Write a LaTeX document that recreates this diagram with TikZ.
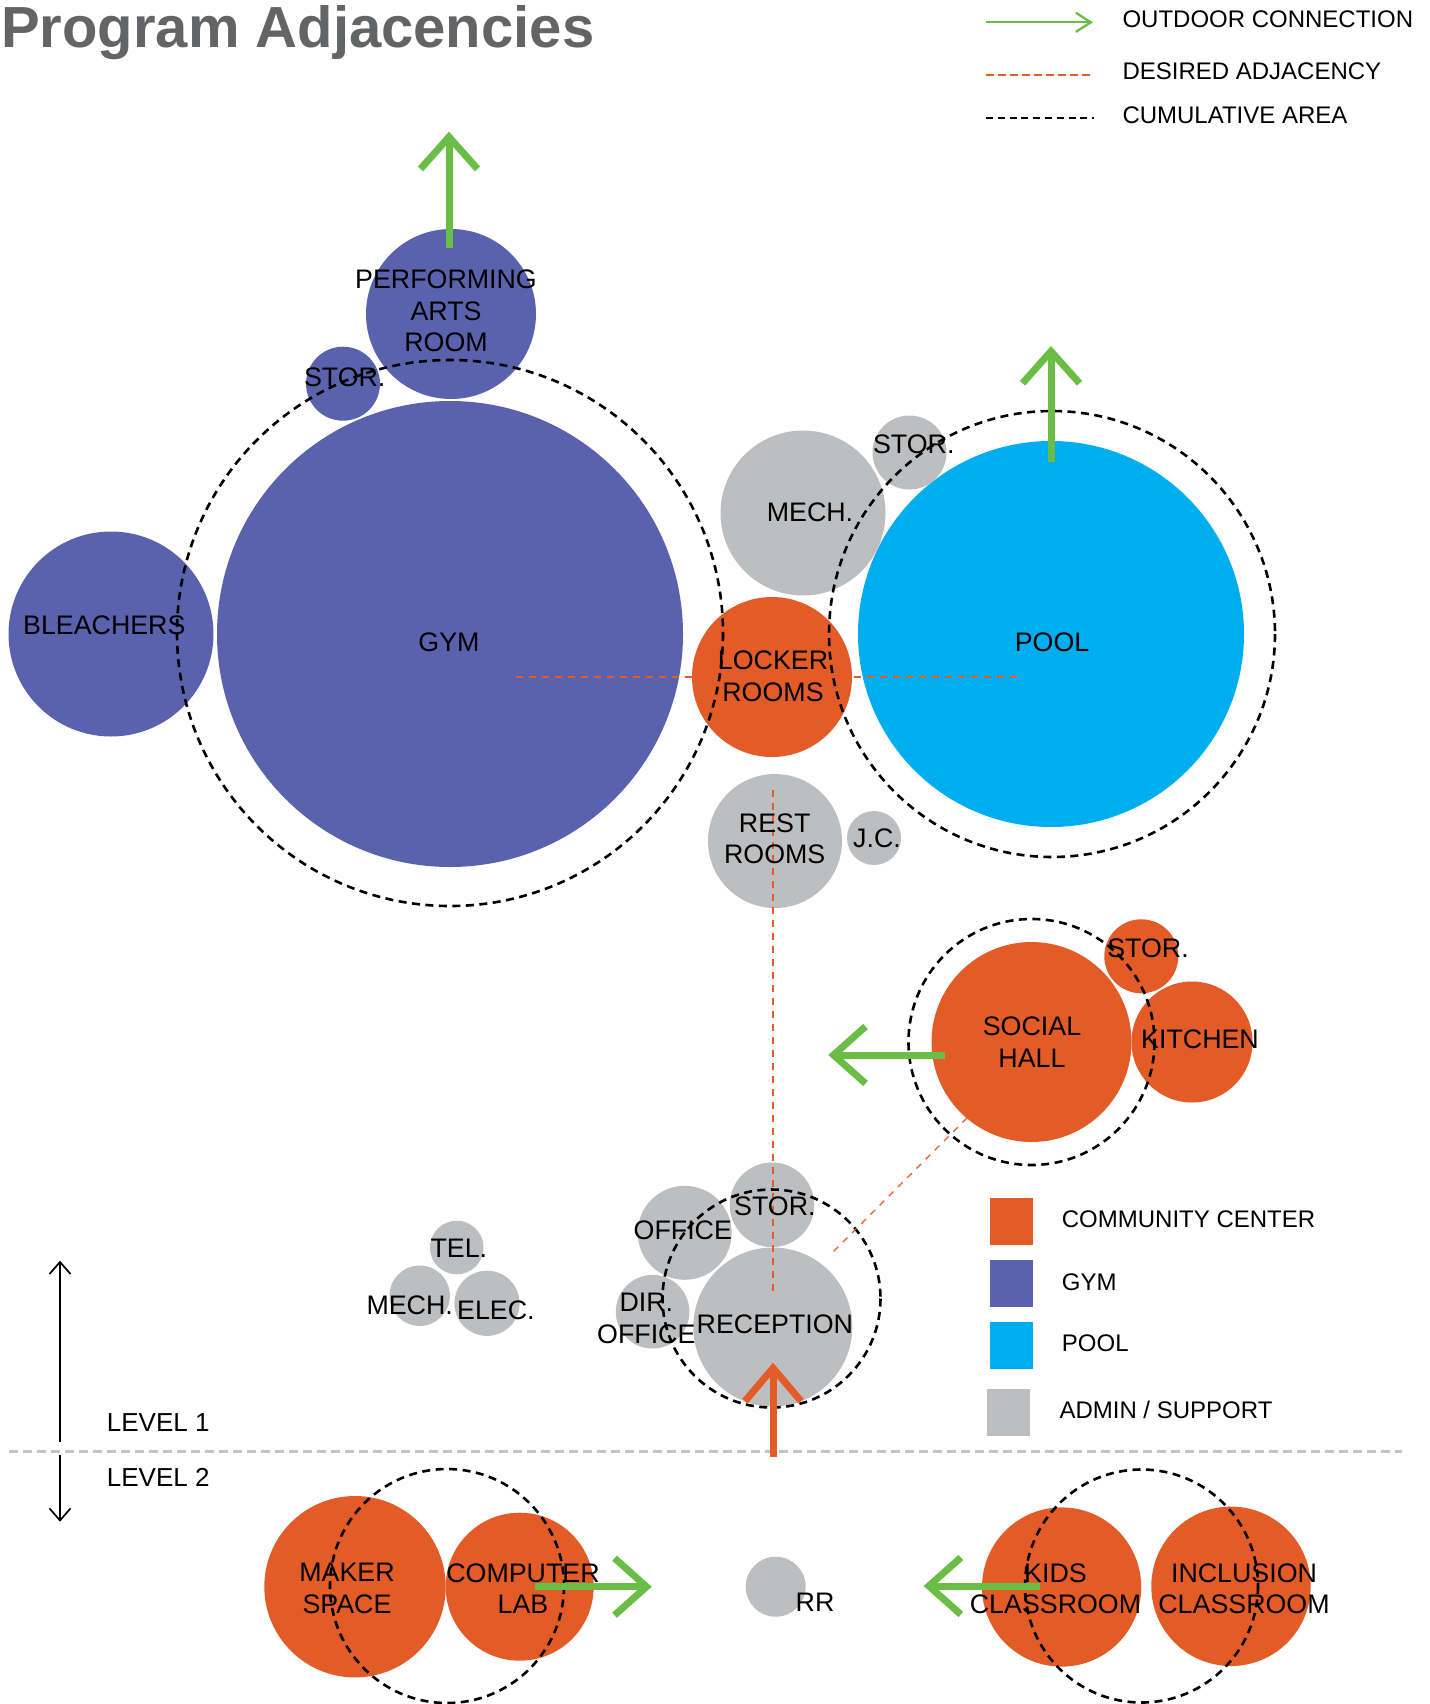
\documentclass[tikz,border=0pt]{standalone}
\usepackage{fontspec}
\setmainfont{Liberation Sans}
\usetikzlibrary{arrows.meta}
\definecolor{cc}{HTML}{E35B26}
\definecolor{gymc}{HTML}{5A61AD}
\definecolor{poolc}{HTML}{00AEEF}
\definecolor{admc}{HTML}{BCBEC0}
\definecolor{grn}{HTML}{6ABD45}
\definecolor{ttl}{HTML}{636466}
\definecolor{lvlc}{HTML}{C4C4C4}
\tikzset{
 room/.style={circle, inner sep=0pt, outer sep=0pt, draw=none, minimum size=#1},
 cum/.style={draw=black, line width=2.6pt, dash pattern=on 8pt off 5.5pt},
 adj/.style={draw=cc, line width=1.3pt, dash pattern=on 6.5pt off 6.5pt},
 outdoor/.style={draw=grn, line width=7pt, -{Straight Barb[length=32pt, width=57pt]}},
 entry/.style={draw=cc, line width=7pt, -{Straight Barb[length=33pt, width=56pt]}},
 lbl/.style={anchor=north, inner sep=0pt, align=center, font=\fontsize{26.8}{31.4}\selectfont},
 leg/.style={anchor=base west, inner sep=0pt, font=\fontsize{24}{28}\selectfont},
 sq/.style={rectangle, inner sep=0pt, draw=none, minimum width=43pt, minimum height=47pt},
 lvlarrow/.style={draw=black, line width=1.7pt, -{Straight Barb[length=12pt, width=21pt]}},
}
\begin{document}
\begin{tikzpicture}[x=1pt, y=-1pt]
\useasboundingbox (0,0) rectangle (1429,1704);
% ---------- title
\node[anchor=north west, inner sep=0pt, text=ttl, font=\bfseries\fontsize{58}{60}\selectfont] (title) at (1,5) {Program Adjacencies};
% ---------- rooms (filled circles)
\node[room=466pt, fill=gymc] (gym) at (450,634) {};
\node[room=205pt, fill=gymc] (bleach) at (111,634) {};
\node[room=170pt, fill=gymc] (par) at (451,314) {};
\node[room=74pt, fill=gymc] (gstor) at (343,383.7) {};
\node[room=386pt, fill=poolc] (pool) at (1051,634) {};
\node[room=165pt, fill=admc] (mechA) at (803,513) {};
\node[room=74pt, fill=admc] (pstor) at (909.5,452.5) {};
\node[room=160pt, fill=cc] (locker) at (772,677) {};
\node[room=134pt, fill=admc] (rest) at (775,841) {};
\node[room=54pt, fill=admc] (jc) at (874,838) {};
\node[room=200pt, fill=cc] (social) at (1031.5,1042) {};
\node[room=74pt, fill=cc] (sstor) at (1141.3,956.3) {};
\node[room=121pt, fill=cc] (kitchen) at (1192,1042) {};
\node[room=53.6pt, fill=admc] (tel) at (456.7,1247.5) {};
\node[room=60.4pt, fill=admc] (mechB) at (419.7,1295.7) {};
\node[room=65.2pt, fill=admc] (elec) at (487,1303.3) {};
\node[room=94pt, fill=admc] (office) at (684.7,1232.8) {};
\node[room=84.6pt, fill=admc] (rstor) at (772,1204.8) {};
\node[room=73.6pt, fill=admc] (dir) at (652.6,1311.7) {};
\node[room=159pt, fill=admc] (recep) at (772.8,1327) {};
\node[room=181.4pt, fill=cc] (maker) at (355,1586.7) {};
\node[room=148pt, fill=cc] (comp) at (519.7,1586.7) {};
\node[room=60pt, fill=admc] (rr) at (775.7,1586.7) {};
\node[room=159.2pt, fill=cc] (kids) at (1061.6,1587) {};
\node[room=159.4pt, fill=cc] (incl) at (1231,1586.3) {};
% ---------- cumulative areas
\draw[cum] (450,633) circle[radius=273];
\draw[cum] (1052,634) circle[radius=223];
\draw[cum] (1031.5,1042) circle[radius=123];
\draw[cum] (771.5,1298.5) circle[radius=109];
\draw[cum] (447,1586) circle[radius=117];
\draw[cum] (1141.5,1586) circle[radius=116.5];
% ---------- desired adjacencies
\coordinate (adjL) at (516,677);
\coordinate (adjR) at (1021,677);
\draw[adj] (adjL) -- (adjR);
\coordinate (adjT) at (773,790);
\coordinate (adjB) at (773,1295);
\draw[adj] (adjT) -- (adjB);
\coordinate (adjS) at (967,1118);
\coordinate (adjE) at (833,1252);
\draw[adj] (adjS) -- (adjE);
% ---------- level divider
\coordinate (lvlL) at (9,1451.7);
\coordinate (lvlR) at (1402,1451.7);
\draw[draw=lvlc, line width=2.6pt, dash pattern=on 9pt off 5pt] (lvlL) -- (lvlR);
\coordinate (upA) at (60,1441.7);
\coordinate (upT) at (60,1260.7);
\draw[lvlarrow] (upA) -- (upT);
\coordinate (dnA) at (60,1455);
\coordinate (dnT) at (60,1521.7);
\draw[lvlarrow] (dnA) -- (dnT);
% ---------- outdoor connections
\coordinate (parA) at (449,248);
\coordinate (parT) at (449,131.7);
\draw[outdoor] (parA) -- (parT);
\coordinate (poolA) at (1051,462);
\coordinate (poolT) at (1051,346);
\draw[outdoor] (poolA) -- (poolT);
\coordinate (socA) at (945,1055);
\coordinate (socT) at (828.3,1055);
\draw[outdoor] (socA) -- (socT);
\coordinate (compA) at (535,1586.7);
\coordinate (compT) at (651.8,1586.7);
\draw[outdoor] (compA) -- (compT);
\coordinate (kidsA) at (1040,1586);
\coordinate (kidsT) at (923.6,1586);
\draw[outdoor] (kidsA) -- (kidsT);
% ---------- entry arrow
\coordinate (entA) at (773,1457);
\coordinate (entT) at (773,1362.7);
\draw[entry] (entA) -- (entT);
% ---------- labels
\node[lbl] (tgym) at (449,632.7) {GYM};
\node[lbl] (tbleach) at (104.3,615.7) {BLEACHERS};
\node[lbl] (tpar) at (446,270) {PERFORMING\\ARTS\\ROOM};
\node[lbl] (tgstor) at (344.7,368) {STOR.};
\node[lbl] (tmechA) at (810,502.7) {MECH.};
\node[lbl] (tpstor) at (913.8,435) {STOR.};
\node[lbl] (tpool) at (1052,632.7) {POOL};
\node[lbl] (tlocker) at (773,651) {LOCKER\\ROOMS};
\node[lbl] (trest) at (774.7,813.3) {REST\\ROOMS};
\node[lbl] (tjc) at (877,828.3) {J.C.};
\node[lbl] (tsocial) at (1032,1016.7) {SOCIAL\\HALL};
\node[lbl] (tsstor) at (1148,938.3) {STOR.};
\node[lbl] (tkitchen) at (1200,1029.3) {KITCHEN};
\node[lbl] (ttel) at (458.8,1239) {TEL.};
\node[lbl] (tmechB) at (409.7,1296) {MECH.};
\node[lbl] (telec) at (495.9,1301) {ELEC.};
\node[lbl] (toffice) at (682.8,1221) {OFFICE};
\node[lbl] (trstor) at (774.9,1196.7) {STOR.};
\node[lbl] (tdir) at (646.3,1293.3) {DIR.\\OFFICE};
\node[lbl] (trecep) at (774.9,1315) {RECEPTION};
\node[lbl] (tmaker) at (347,1563.3) {MAKER\\SPACE};
\node[lbl] (tcomp) at (523,1563.3) {COMPUTER\\LAB};
\node[lbl] (trr) at (815,1592.7) {RR};
\node[lbl] (tkids) at (1055.5,1563.3) {KIDS\\CLASSROOM};
\node[lbl] (tincl) at (1244,1563.3) {INCLUSION\\CLASSROOM};
% ---------- level labels
\node[anchor=base west, inner sep=0pt, font=\fontsize{26}{30}\selectfont] (lv1) at (106.7,1431) {LEVEL 1};
\node[anchor=base west, inner sep=0pt, font=\fontsize{26}{30}\selectfont] (lv2) at (106.7,1486.7) {LEVEL 2};
% ---------- legend (top)
\coordinate (lgA1) at (986,22.3);
\coordinate (lgT1) at (1093,22.3);
\draw[draw=grn, line width=2.3pt, -{Straight Barb[length=15pt, width=19pt]}] (lgA1) -- (lgT1);
\node[leg] (lgo) at (1122.3,27.7) {OUTDOOR CONNECTION};
\coordinate (lgA2) at (986,75);
\coordinate (lgT2) at (1094,75);
\draw[draw=cc, line width=2.6pt, dash pattern=on 7.5pt off 4.5pt] (lgA2) -- (lgT2);
\node[leg] (lgd) at (1122.3,80) {DESIRED ADJACENCY};
\coordinate (lgA3) at (986,118.3);
\coordinate (lgT3) at (1094,118.3);
\draw[draw=black, line width=2.4pt, dash pattern=on 7pt off 4.8pt] (lgA3) -- (lgT3);
\node[leg] (lgc) at (1122.3,123.3) {CUMULATIVE AREA};
% ---------- legend (colours)
\node[sq, fill=cc] (sqcc) at (1011.3,1221.3) {};
\node[leg] (lgcc) at (1061.7,1227.3) {COMMUNITY CENTER};
\node[sq, fill=gymc] (sqgym) at (1011.3,1283.3) {};
\node[leg] (lggym) at (1061.7,1290) {GYM};
\node[sq, fill=poolc] (sqpool) at (1011.3,1345.3) {};
\node[leg] (lgpool) at (1061.7,1351.7) {POOL};
\node[sq, fill=admc] (sqadm) at (1008.3,1412.3) {};
\node[leg] (lgadm) at (1059.3,1418.3) {ADMIN / SUPPORT};
\end{tikzpicture}
\end{document}
